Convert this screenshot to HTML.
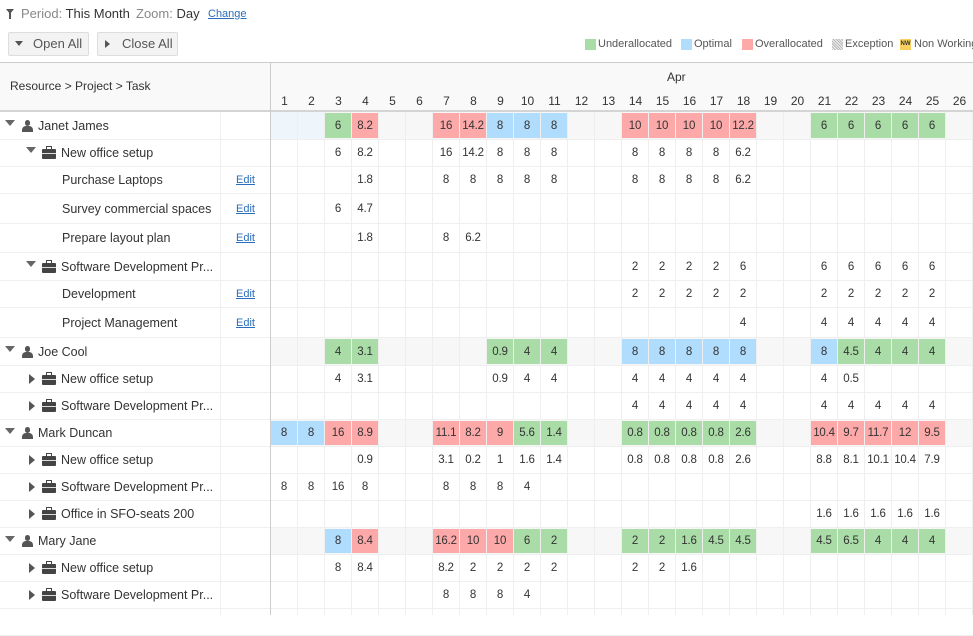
<!DOCTYPE html>
<html><head><meta charset="utf-8"><style>
*{box-sizing:border-box;margin:0;padding:0}
body{width:973px;height:615px;overflow:hidden;background:#fff;font-family:"Liberation Sans",sans-serif;color:#333;position:relative}
.a{position:absolute;white-space:nowrap}
.row{position:absolute;left:0;width:973px;border-bottom:1px solid #efefef}
.row.res .tl{position:absolute;left:271px;right:0;top:0;bottom:0;background:#f7f7f7}
.row i{font-style:normal;position:absolute;top:1px;bottom:1px;width:26px;display:flex;align-items:center;justify-content:center;font-size:11.5px;color:#333;letter-spacing:-0.2px}
.g{background:#a9dca6}.b{background:#b0dcfd}.r{background:#fea9a9}
.c1{left:271px}.c2{left:298px}.c3{left:325px}.c4{left:352px}.c7{left:433px}.c8{left:460px}.c9{left:487px}.c10{left:514px}.c11{left:541px}.c14{left:622px}.c15{left:649px}.c16{left:676px}.c17{left:703px}.c18{left:730px}.c21{left:811px}.c22{left:838px}.c23{left:865px}.c24{left:892px}.c25{left:919px}
.lbl{position:absolute;top:0;bottom:0;display:flex;align-items:center;font-size:12.5px;color:#333}
.edit{position:absolute;left:236px;top:0;bottom:0;display:flex;align-items:center;font-size:11px;color:#2a6ebb;text-decoration:underline}
.tri{position:absolute;width:0;height:0;border-left:5px solid transparent;border-right:5px solid transparent;border-top:6px solid #666}
.trr{position:absolute;width:0;height:0;border-top:5px solid transparent;border-bottom:5px solid transparent;border-left:6px solid #555}
.per{position:absolute;width:11px;height:12px}
.per:before{content:"";position:absolute;left:3px;top:0;width:5px;height:6px;border-radius:3px;background:#555}
.per:after{content:"";position:absolute;left:0;top:6px;width:11px;height:6px;border-radius:4px 4px 0 0;background:#555}
.bc{position:absolute;width:14px;height:10px;background:#444;border-radius:1px}
.bc:before{content:"";position:absolute;left:4px;top:-3px;width:4px;height:2px;border:1px solid #444;border-bottom:none}
.bc:after{content:"";position:absolute;left:0;top:4px;width:14px;height:1px;background:#ddd}
</style></head><body>
<!-- toolbar -->
<div class="a" style="left:6px;top:9px;width:0;height:0;border-left:4px solid transparent;border-right:4px solid transparent;border-top:5px solid #555"></div>
<div class="a" style="left:9px;top:12px;width:2px;height:7px;background:#555"></div>
<div class="a" style="left:21px;top:6px;font-size:13px"><span style="color:#888">Period:</span> This Month</div>
<div class="a" style="left:136px;top:6px;font-size:13px"><span style="color:#888">Zoom:</span> Day</div>
<div class="a" style="left:208px;top:8px;font-size:11px;color:#2a6ebb;text-decoration:underline">Change</div>
<div class="a" style="left:8px;top:32px;width:81px;height:24px;background:#f3f3f3;border:1px solid #ddd;border-radius:2px"></div>
<div class="a" style="left:15px;top:41px;width:0;height:0;border-left:4px solid transparent;border-right:4px solid transparent;border-top:5px solid #555"></div>
<div class="a" style="left:33px;top:36px;font-size:13px;color:#555">Open All</div>
<div class="a" style="left:97px;top:32px;width:81px;height:24px;background:#f3f3f3;border:1px solid #ddd;border-radius:2px"></div>
<div class="a" style="left:105px;top:40px;width:0;height:0;border-top:4px solid transparent;border-bottom:4px solid transparent;border-left:5px solid #555"></div>
<div class="a" style="left:122px;top:36px;font-size:13px;color:#555">Close All</div>
<!-- legend -->
<div class="a" style="left:585px;top:39px;width:11px;height:11px;background:#a9dca6"></div>
<div class="a" style="left:598px;top:38px;font-size:11px;color:#555">Underallocated</div>
<div class="a" style="left:681px;top:39px;width:11px;height:11px;background:#b0dcfd"></div>
<div class="a" style="left:694px;top:38px;font-size:11px;color:#555">Optimal</div>
<div class="a" style="left:742px;top:39px;width:11px;height:11px;background:#fea9a9"></div>
<div class="a" style="left:755px;top:38px;font-size:11px;color:#555">Overallocated</div>
<div class="a" style="left:832px;top:39px;width:11px;height:11px;background:repeating-linear-gradient(45deg,#bbb 0 1px,#eee 1px 2px)"></div>
<div class="a" style="left:845px;top:38px;font-size:11px;color:#555">Exception</div>
<div class="a" style="left:900px;top:39px;width:11px;height:11px;background:#f8d060;font-size:6px;line-height:11px;font-weight:bold;text-align:center">NW</div>
<div class="a" style="left:914px;top:38px;font-size:11px;color:#555">Non Working</div>
<!-- header -->
<div class="a" style="left:0;top:62px;width:973px;height:50px;background:#f9f9f9;border-top:1px solid #ccc;border-bottom:2px solid #d4d4d4"></div>
<div class="a" style="left:10px;top:79px;font-size:12px">Resource &gt; Project &gt; Task</div>
<div class="a" style="left:667px;top:70px;font-size:12px">Apr</div>
<div class="a" style="left:271px;top:94px;font-size:12px;display:flex">
<span style="width:27px;text-align:center">1</span><span style="width:27px;text-align:center">2</span><span style="width:27px;text-align:center">3</span><span style="width:27px;text-align:center">4</span><span style="width:27px;text-align:center">5</span><span style="width:27px;text-align:center">6</span><span style="width:27px;text-align:center">7</span><span style="width:27px;text-align:center">8</span><span style="width:27px;text-align:center">9</span><span style="width:27px;text-align:center">10</span><span style="width:27px;text-align:center">11</span><span style="width:27px;text-align:center">12</span><span style="width:27px;text-align:center">13</span><span style="width:27px;text-align:center">14</span><span style="width:27px;text-align:center">15</span><span style="width:27px;text-align:center">16</span><span style="width:27px;text-align:center">17</span><span style="width:27px;text-align:center">18</span><span style="width:27px;text-align:center">19</span><span style="width:27px;text-align:center">20</span><span style="width:27px;text-align:center">21</span><span style="width:27px;text-align:center">22</span><span style="width:27px;text-align:center">23</span><span style="width:27px;text-align:center">24</span><span style="width:27px;text-align:center">25</span><span style="width:27px;text-align:center">26</span></div>
<!-- rows -->
<div class="row res" style="top:112px;height:28px"><div class="tl"></div><div class="a" style="left:271px;top:0;width:54px;height:27px;background:#eef6fc"></div>
<div class="tri" style="left:5px;top:8px"></div><div class="per" style="left:22px;top:8px"></div><div class="lbl" style="left:38px">Janet James</div>
<i class="c3 g">6</i><i class="c4 r">8.2</i><i class="c7 r">16</i><i class="c8 r">14.2</i><i class="c9 b">8</i><i class="c10 b">8</i><i class="c11 b">8</i><i class="c14 r">10</i><i class="c15 r">10</i><i class="c16 r">10</i><i class="c17 r">10</i><i class="c18 r">12.2</i><i class="c21 g">6</i><i class="c22 g">6</i><i class="c23 g">6</i><i class="c24 g">6</i><i class="c25 g">6</i></div>
<div class="row" style="top:140px;height:27px"><div class="tri" style="left:26px;top:7px"></div><div class="bc" style="left:42px;top:9px"></div><div class="lbl" style="left:61px">New office setup</div>
<i class="c3">6</i><i class="c4">8.2</i><i class="c7">16</i><i class="c8">14.2</i><i class="c9">8</i><i class="c10">8</i><i class="c11">8</i><i class="c14">8</i><i class="c15">8</i><i class="c16">8</i><i class="c17">8</i><i class="c18">6.2</i></div>
<div class="row" style="top:167px;height:27px"><div class="lbl" style="left:62px">Purchase Laptops</div><div class="edit">Edit</div>
<i class="c4">1.8</i><i class="c7">8</i><i class="c8">8</i><i class="c9">8</i><i class="c10">8</i><i class="c11">8</i><i class="c14">8</i><i class="c15">8</i><i class="c16">8</i><i class="c17">8</i><i class="c18">6.2</i></div>
<div class="row" style="top:194px;height:30px"><div class="lbl" style="left:62px">Survey commercial spaces</div><div class="edit">Edit</div>
<i class="c3">6</i><i class="c4">4.7</i></div>
<div class="row" style="top:224px;height:29px"><div class="lbl" style="left:62px">Prepare layout plan</div><div class="edit">Edit</div>
<i class="c4">1.8</i><i class="c7">8</i><i class="c8">6.2</i></div>
<div class="row" style="top:253px;height:28px"><div class="tri" style="left:26px;top:8px"></div><div class="bc" style="left:42px;top:10px"></div><div class="lbl" style="left:61px">Software Development Pr...</div>
<i class="c14">2</i><i class="c15">2</i><i class="c16">2</i><i class="c17">2</i><i class="c18">6</i><i class="c21">6</i><i class="c22">6</i><i class="c23">6</i><i class="c24">6</i><i class="c25">6</i></div>
<div class="row" style="top:281px;height:27px"><div class="lbl" style="left:62px">Development</div><div class="edit">Edit</div>
<i class="c14">2</i><i class="c15">2</i><i class="c16">2</i><i class="c17">2</i><i class="c18">2</i><i class="c21">2</i><i class="c22">2</i><i class="c23">2</i><i class="c24">2</i><i class="c25">2</i></div>
<div class="row" style="top:308px;height:30px"><div class="lbl" style="left:62px">Project Management</div><div class="edit">Edit</div>
<i class="c18">4</i><i class="c21">4</i><i class="c22">4</i><i class="c23">4</i><i class="c24">4</i><i class="c25">4</i></div>
<div class="row res" style="top:338px;height:28px"><div class="tl"></div><div class="tri" style="left:5px;top:8px"></div><div class="per" style="left:22px;top:8px"></div><div class="lbl" style="left:38px">Joe Cool</div>
<i class="c3 g">4</i><i class="c4 g">3.1</i><i class="c9 g">0.9</i><i class="c10 g">4</i><i class="c11 g">4</i><i class="c14 b">8</i><i class="c15 b">8</i><i class="c16 b">8</i><i class="c17 b">8</i><i class="c18 b">8</i><i class="c21 b">8</i><i class="c22 g">4.5</i><i class="c23 g">4</i><i class="c24 g">4</i><i class="c25 g">4</i></div>
<div class="row" style="top:366px;height:27px"><div class="trr" style="left:29px;top:8px"></div><div class="bc" style="left:42px;top:9px"></div><div class="lbl" style="left:61px">New office setup</div>
<i class="c3">4</i><i class="c4">3.1</i><i class="c9">0.9</i><i class="c10">4</i><i class="c11">4</i><i class="c14">4</i><i class="c15">4</i><i class="c16">4</i><i class="c17">4</i><i class="c18">4</i><i class="c21">4</i><i class="c22">0.5</i></div>
<div class="row" style="top:393px;height:27px"><div class="trr" style="left:29px;top:8px"></div><div class="bc" style="left:42px;top:9px"></div><div class="lbl" style="left:61px">Software Development Pr...</div>
<i class="c14">4</i><i class="c15">4</i><i class="c16">4</i><i class="c17">4</i><i class="c18">4</i><i class="c21">4</i><i class="c22">4</i><i class="c23">4</i><i class="c24">4</i><i class="c25">4</i></div>
<div class="row res" style="top:420px;height:27px"><div class="tl"></div><div class="tri" style="left:5px;top:8px"></div><div class="per" style="left:22px;top:7px"></div><div class="lbl" style="left:38px">Mark Duncan</div>
<i class="c1 b">8</i><i class="c2 b">8</i><i class="c3 r">16</i><i class="c4 r">8.9</i><i class="c7 r">11.1</i><i class="c8 r">8.2</i><i class="c9 r">9</i><i class="c10 g">5.6</i><i class="c11 g">1.4</i><i class="c14 g">0.8</i><i class="c15 g">0.8</i><i class="c16 g">0.8</i><i class="c17 g">0.8</i><i class="c18 g">2.6</i><i class="c21 r">10.4</i><i class="c22 r">9.7</i><i class="c23 r">11.7</i><i class="c24 r">12</i><i class="c25 r">9.5</i></div>
<div class="row" style="top:447px;height:27px"><div class="trr" style="left:29px;top:8px"></div><div class="bc" style="left:42px;top:9px"></div><div class="lbl" style="left:61px">New office setup</div>
<i class="c4">0.9</i><i class="c7">3.1</i><i class="c8">0.2</i><i class="c9">1</i><i class="c10">1.6</i><i class="c11">1.4</i><i class="c14">0.8</i><i class="c15">0.8</i><i class="c16">0.8</i><i class="c17">0.8</i><i class="c18">2.6</i><i class="c21">8.8</i><i class="c22">8.1</i><i class="c23">10.1</i><i class="c24">10.4</i><i class="c25">7.9</i></div>
<div class="row" style="top:474px;height:27px"><div class="trr" style="left:29px;top:8px"></div><div class="bc" style="left:42px;top:9px"></div><div class="lbl" style="left:61px">Software Development Pr...</div>
<i class="c1">8</i><i class="c2">8</i><i class="c3">16</i><i class="c4">8</i><i class="c7">8</i><i class="c8">8</i><i class="c9">8</i><i class="c10">4</i></div>
<div class="row" style="top:501px;height:27px"><div class="trr" style="left:29px;top:8px"></div><div class="bc" style="left:42px;top:9px"></div><div class="lbl" style="left:61px">Office in SFO-seats 200</div>
<i class="c21">1.6</i><i class="c22">1.6</i><i class="c23">1.6</i><i class="c24">1.6</i><i class="c25">1.6</i></div>
<div class="row res" style="top:528px;height:27px"><div class="tl"></div><div class="tri" style="left:5px;top:8px"></div><div class="per" style="left:22px;top:7px"></div><div class="lbl" style="left:38px">Mary Jane</div>
<i class="c3 b">8</i><i class="c4 r">8.4</i><i class="c7 r">16.2</i><i class="c8 r">10</i><i class="c9 r">10</i><i class="c10 g">6</i><i class="c11 g">2</i><i class="c14 g">2</i><i class="c15 g">2</i><i class="c16 g">1.6</i><i class="c17 g">4.5</i><i class="c18 g">4.5</i><i class="c21 g">4.5</i><i class="c22 g">6.5</i><i class="c23 g">4</i><i class="c24 g">4</i><i class="c25 g">4</i></div>
<div class="row" style="top:555px;height:27px"><div class="trr" style="left:29px;top:8px"></div><div class="bc" style="left:42px;top:9px"></div><div class="lbl" style="left:61px">New office setup</div>
<i class="c3">8</i><i class="c4">8.4</i><i class="c7">8.2</i><i class="c8">2</i><i class="c9">2</i><i class="c10">2</i><i class="c11">2</i><i class="c14">2</i><i class="c15">2</i><i class="c16">1.6</i></div>
<div class="row" style="top:582px;height:27px"><div class="trr" style="left:29px;top:8px"></div><div class="bc" style="left:42px;top:9px"></div><div class="lbl" style="left:61px">Software Development Pr...</div>
<i class="c7">8</i><i class="c8">8</i><i class="c9">8</i><i class="c10">4</i></div>
<div class="row" style="top:609px;height:27px"></div>
<!-- grid lines -->
<div class="a" style="left:271px;top:112px;width:702px;height:503px;background:repeating-linear-gradient(90deg,transparent 0 26px,#efefef 26px 27px);pointer-events:none"></div>
<div class="a" style="left:220px;top:112px;width:1px;height:503px;background:#efefef"></div>
<div class="a" style="left:270px;top:62px;width:1px;height:553px;background:#ccc"></div>
</body></html>
